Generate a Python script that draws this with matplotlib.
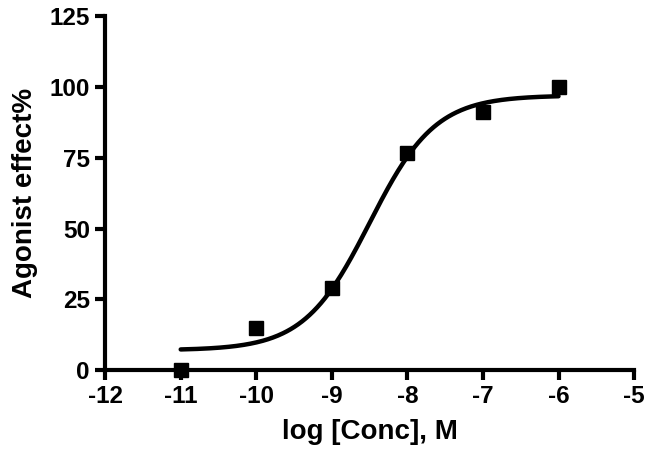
import numpy as np
import matplotlib.pyplot as plt

plt.rcParams["font.family"] = ["Liberation Sans", "DejaVu Sans"]
plt.rcParams["font.weight"] = "bold"
plt.rcParams["axes.unicode_minus"] = False

# measured points
log_conc = [-11, -10, -9, -8, -7, -6]
effect = [0, 15, 29, 76.5, 91, 100]

# fitted sigmoid (4PL) parameters
bottom, top, log_ec50, hill = 7.0, 97.0, -8.5, 1.0

xticks = [-12, -11, -10, -9, -8, -7, -6, -5]
yticks = [0, 25, 50, 75, 100, 125]

fig = plt.figure(figsize=(6.49, 4.62), dpi=100)
ax = fig.add_axes([0.162, 0.199, 0.815, 0.766])

xfit = np.linspace(min(log_conc), max(log_conc), 300)
yfit = bottom + (top - bottom) / (1 + 10 ** ((log_ec50 - xfit) * hill))
ax.plot(xfit, yfit, color="black", lw=3.2, solid_capstyle="round")
ax.plot(log_conc, effect, "s", color="black", ms=9.5, clip_on=False)

ax.set_xlim(-12, -5)
ax.set_ylim(0, 125)
ax.set_xticks(xticks)
ax.set_yticks(yticks)
ax.tick_params(width=3, length=7, labelsize=17.5, pad=4)
for lab in ax.get_xticklabels() + ax.get_yticklabels():
    lab.set_fontweight("bold")

for s in ["top", "right"]:
    ax.spines[s].set_visible(False)
for s in ["left", "bottom"]:
    ax.spines[s].set_linewidth(3)

ax.set_xlabel("log [Conc], M", fontsize=20, fontweight="bold", labelpad=8)
ax.set_ylabel("Agonist effect%", fontsize=20, fontweight="bold", labelpad=8)

fig.savefig("out.png", dpi=100)
